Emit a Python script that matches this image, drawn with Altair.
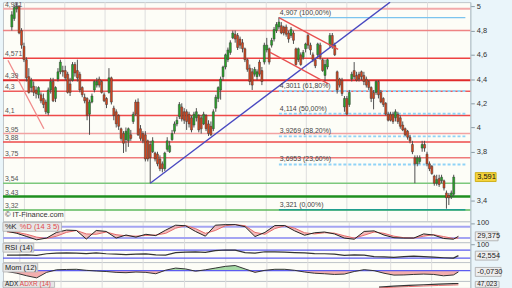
import altair as alt
import pandas as pd

FONT = "Liberation Sans"

# ---------------- candles (price) ----------------
opens = [4.83, 4.90, 4.98, 5.00, 4.80, 4.67, 4.56, 4.42, 4.33, 4.34,
         4.31, 4.27, 4.27, 4.24, 4.21, 4.12, 4.31, 4.38, 4.24, 4.40,
         4.46, 4.47, 4.47, 4.44, 4.36, 4.39, 4.52, 4.47, 4.44, 4.33,
         4.25, 4.24, 4.11, 4.21, 4.31, 4.35, 4.40, 4.38, 4.27, 4.24,
         4.29, 4.41, 4.16, 4.13, 4.10, 3.99, 3.95, 3.90, 3.89, 3.94,
         4.05, 4.21, 4.21, 3.99, 3.95, 3.94, 3.89, 3.86, 3.80, 3.79,
         3.78, 3.74, 3.70, 3.66, 3.82, 3.80, 3.90, 3.97, 4.03, 4.09,
         4.17, 4.13, 4.13, 4.11, 4.08, 4.02, 4.08, 4.10, 4.08, 4.03,
         4.10, 4.03, 4.01, 3.99, 4.16, 4.24, 4.31, 4.42, 4.50, 4.56,
         4.62, 4.74, 4.77, 4.76, 4.73, 4.70, 4.65, 4.56, 4.49, 4.46,
         4.44, 4.42, 4.54, 4.47, 4.54, 4.64, 4.65, 4.68, 4.73, 4.80,
         4.83, 4.84, 4.83, 4.83, 4.78, 4.76, 4.78, 4.65, 4.56, 4.60,
         4.58, 4.65, 4.76, 4.68, 4.60, 4.56, 4.60, 4.68, 4.56, 4.43,
         4.50, 4.68, 4.76, 4.68, 4.46, 4.40, 4.39, 4.17, 4.24, 4.19,
         4.40, 4.47, 4.43, 4.44, 4.46, 4.43, 4.40, 4.38, 4.33, 4.29,
         4.29, 4.38, 4.29, 4.24, 4.20, 4.11, 4.11, 4.11, 4.08, 4.11,
         4.08, 4.02, 3.99, 3.97, 3.92, 3.86, 3.75, 3.70, 3.72, 3.83,
         3.86, 3.78, 3.70, 3.68, 3.60, 3.54, 3.58, 3.56, 3.56, 3.46,
         3.44, 3.43, 3.45]
closes = [4.93, 4.99, 5.00, 4.78, 4.68, 4.56, 4.41, 4.29, 4.39, 4.29,
          4.28, 4.33, 4.22, 4.19, 4.13, 4.31, 4.38, 4.22, 4.33, 4.46,
          4.54, 4.46, 4.41, 4.29, 4.29, 4.52, 4.45, 4.41, 4.31, 4.27,
          4.22, 4.10, 4.21, 4.26, 4.38, 4.38, 4.35, 4.29, 4.22, 4.19,
          4.41, 4.21, 4.10, 4.03, 4.01, 3.91, 3.87, 3.97, 3.99, 3.91,
          4.11, 4.11, 3.94, 3.91, 3.89, 3.74, 3.74, 3.75, 3.89, 3.74,
          3.70, 3.66, 3.66, 3.79, 3.89, 3.85, 3.95, 4.03, 4.06, 4.19,
          4.07, 4.06, 4.05, 4.03, 3.98, 4.11, 4.13, 3.98, 3.99, 4.11,
          3.99, 3.95, 3.94, 4.13, 4.25, 4.33, 4.40, 4.50, 4.60, 4.64,
          4.70, 4.78, 4.73, 4.66, 4.68, 4.65, 4.56, 4.48, 4.38, 4.35,
          4.48, 4.46, 4.44, 4.38, 4.68, 4.68, 4.54, 4.72, 4.81, 4.85,
          4.87, 4.78, 4.78, 4.77, 4.73, 4.81, 4.72, 4.52, 4.65, 4.52,
          4.62, 4.69, 4.68, 4.64, 4.56, 4.51, 4.69, 4.58, 4.47, 4.52,
          4.56, 4.76, 4.68, 4.60, 4.31, 4.35, 4.28, 4.24, 4.11, 4.29,
          4.44, 4.42, 4.39, 4.40, 4.42, 4.38, 4.35, 4.33, 4.24, 4.24,
          4.38, 4.27, 4.21, 4.19, 4.11, 4.06, 4.06, 4.05, 4.13, 4.05,
          4.01, 3.98, 3.94, 3.92, 3.89, 3.80, 3.70, 3.75, 3.75, 3.86,
          3.83, 3.70, 3.66, 3.62, 3.54, 3.57, 3.53, 3.59, 3.50, 3.42,
          3.42, 3.46, 3.591]
highs = [4.96, 5.01, 5.03, 5.01, 4.82, 4.70, 4.58, 4.49, 4.41, 4.38,
         4.34, 4.34, 4.29, 4.28, 4.23, 4.33, 4.41, 4.41, 4.34, 4.49,
         4.56, 4.51, 4.51, 4.46, 4.41, 4.54, 4.54, 4.56, 4.46, 4.34,
         4.28, 4.25, 4.23, 4.28, 4.39, 4.41, 4.42, 4.39, 4.29, 4.25,
         4.49, 4.42, 4.18, 4.15, 4.11, 4.00, 3.97, 4.00, 4.00, 3.98,
         4.13, 4.23, 4.24, 4.02, 3.97, 3.97, 3.90, 3.89, 3.92, 3.80,
         3.80, 3.77, 3.72, 3.80, 3.92, 3.89, 3.98, 4.05, 4.09, 4.21,
         4.20, 4.16, 4.15, 4.13, 4.10, 4.13, 4.16, 4.11, 4.10, 4.13,
         4.11, 4.06, 4.05, 4.15, 4.27, 4.34, 4.42, 4.51, 4.61, 4.66,
         4.72, 4.80, 4.80, 4.78, 4.75, 4.73, 4.66, 4.57, 4.52, 4.49,
         4.50, 4.48, 4.56, 4.50, 4.70, 4.74, 4.66, 4.74, 4.83, 4.87,
         4.91, 4.87, 4.84, 4.85, 4.80, 4.83, 4.80, 4.66, 4.66, 4.62,
         4.64, 4.70, 4.78, 4.70, 4.62, 4.57, 4.70, 4.70, 4.57, 4.56,
         4.57, 4.78, 4.78, 4.70, 4.47, 4.41, 4.41, 4.26, 4.26, 4.31,
         4.46, 4.54, 4.46, 4.46, 4.47, 4.46, 4.42, 4.39, 4.34, 4.31,
         4.39, 4.39, 4.31, 4.25, 4.21, 4.13, 4.13, 4.13, 4.15, 4.13,
         4.10, 4.05, 4.00, 3.98, 3.94, 3.89, 3.77, 3.77, 3.77, 3.89,
         3.89, 3.80, 3.72, 3.69, 3.61, 3.61, 3.61, 3.61, 3.57, 3.48,
         3.46, 3.48, 3.61]
lows = [4.80, 4.88, 4.95, 4.77, 4.65, 4.54, 4.38, 4.28, 4.29, 4.26,
        4.24, 4.24, 4.20, 4.16, 4.11, 4.10, 4.28, 4.21, 4.21, 4.38,
        4.44, 4.42, 4.39, 4.28, 4.26, 4.38, 4.42, 4.38, 4.29, 4.25,
        4.20, 4.06, 3.94, 4.20, 4.29, 4.33, 4.33, 4.28, 4.21, 4.16,
        4.28, 4.19, 4.06, 4.00, 3.98, 3.89, 3.79, 3.80, 3.84, 3.89,
        4.03, 4.10, 3.93, 3.89, 3.87, 3.72, 3.72, 3.54, 3.79, 3.72,
        3.68, 3.64, 3.63, 3.64, 3.80, 3.79, 3.89, 3.95, 4.01, 4.07,
        4.05, 4.03, 3.98, 4.00, 3.96, 4.00, 4.05, 3.96, 3.95, 4.02,
        3.97, 3.93, 3.93, 3.97, 4.13, 4.21, 4.23, 4.39, 4.48, 4.54,
        4.60, 4.73, 4.70, 4.64, 4.65, 4.62, 4.54, 4.46, 4.35, 4.31,
        4.42, 4.39, 4.42, 4.35, 4.52, 4.62, 4.52, 4.66, 4.71, 4.78,
        4.81, 4.77, 4.76, 4.75, 4.70, 4.74, 4.69, 4.51, 4.54, 4.51,
        4.56, 4.62, 4.65, 4.60, 4.54, 4.49, 4.57, 4.56, 4.46, 4.38,
        4.48, 4.66, 4.65, 4.59, 4.28, 4.33, 4.26, 4.13, 4.10, 4.17,
        4.38, 4.40, 4.38, 4.38, 4.39, 4.35, 4.33, 4.31, 4.21, 4.15,
        4.27, 4.24, 4.20, 4.17, 4.10, 4.05, 4.05, 4.03, 4.05, 4.03,
        3.99, 3.97, 3.93, 3.90, 3.87, 3.78, 3.54, 3.68, 3.70, 3.80,
        3.80, 3.68, 3.64, 3.61, 3.52, 3.52, 3.51, 3.54, 3.48, 3.33,
        3.36, 3.41, 3.43]

# ---------------- horizontal levels ----------------
level_vals = [4.981, 4.80, 4.571, 4.39, 4.30, 4.10, 3.95, 3.88, 3.75, 3.54, 3.43, 3.32]
level_text = ["4,981", "", "4,571", "4,39", "4,3", "4,1", "3,95", "3,88", "3,75", "3,54", "3,43", "3,32"]
level_color = ["#f3aaaa", "#ee8484", "#ee4242", "#e02a2a", "#ee5c5c", "#ee4a4a",
               "#f2a2a2", "#ec4a4a", "#ef7a7a", "#7cc87c", "#1f8f1f", "#5cb85c"]
level_width = [2, 1.5, 1.5, 2.2, 1.5, 1.5, 1.5, 1.5, 1.5, 1.5, 2.5, 1.5]

# ---------------- Fibonacci retracement ----------------
fib_vals = [4.907, 4.3011, 4.114, 3.9269, 3.6953, 3.321]
fib_text = ["4,907 (100,00%)", "4,3011 (61,80%)", "4,114 (50,00%)",
            "3,9269 (38,20%)", "3,6953 (23,60%)", "3,321 (0,00%)"]
fib_dash = [False, True, True, True, True, False]
fib_color = ["#7cc4ee", "#8fd3f7", "#8fd3f7", "#8fd3f7", "#8fd3f7", "#1f9e8f"]
fib_start = 110

# ---------------- trend lines (candle index, price) ----------------
trend_x0 = [57, -1.6, 110, 106.4]
trend_y0 = [3.54, 4.555, 4.907, 4.62]
trend_x1 = [155.8, 13.2, 134.4, 130.4]
trend_y1 = [5.035, 3.99, 4.645, 4.36]
trend_color = ["#4848c0", "#f08a8a", "#e85050", "#e85050"]

# vertical date grid (candle index)
grid_i = [5.2, 21.8, 38.4, 54.9, 71.6, 88.2, 104.8, 121.3, 138.0, 154.7, 171.2]

# ---------------- indicators (sampled every 4 candles) ----------------
ind_i = list(range(0, 181, 4)) + [182]
stoch_k = [56, 45, 28, 11, 20, 50, 62, 60, 15, 60,
           55, 20, 36, 25, 40, 33, 62, 88, 85, 55,
           30, 88, 91, 91, 80, 28, 50, 86, 86, 58,
           35, 48, 52, 42, 20, 14, 55, 58, 36, 22,
           20, 20, 42, 36, 18, 14, 29.375]
stoch_d = [52, 50, 40, 25, 18, 30, 50, 60, 42, 40,
           52, 38, 32, 30, 34, 36, 45, 72, 86, 70,
           45, 60, 85, 91, 85, 50, 40, 70, 85, 72,
           48, 42, 48, 46, 32, 20, 35, 52, 45, 30,
           22, 20, 30, 38, 28, 18, 20]
rsi = [45, 45, 46, 44, 52, 55, 56, 55, 53, 56,
       52, 50, 48, 50, 51, 46, 45, 58, 60, 61,
       59, 68, 71, 70, 58, 55, 62, 61, 60, 58,
       56, 53, 52, 50, 44, 46, 45, 38, 36, 34,
       38, 40, 38, 35, 32, 30, 42.554]
mom = [-0.05, -0.15, -0.3, -0.42, -0.1, 0.05, 0.07, 0.08, 0.02, -0.02,
       -0.05, -0.1, -0.12, -0.08, -0.1, -0.18, 0.03, 0.15, 0.1, -0.03,
       0.05, 0.15, 0.25, 0.3, 0.1, -0.1, 0.02, 0.08, 0.08, 0.02,
       -0.08, -0.15, -0.18, -0.22, -0.2, -0.05, 0.06, 0.0, -0.15, -0.26,
       -0.25, -0.22, -0.2, -0.22, -0.3, -0.25, -0.073]
adx_i = [150, 156, 162, 168, 174, 180, 182]
adx = [43.0, 44.0, 44.8, 45.6, 46.3, 46.9, 47.023]
adxr = [42.0, 42.8, 43.5, 44.2, 44.8, 45.3, 45.5]

last_labels = ["3,591", "29,375", "42,554", "-0,0730", "47,023"]

# ======================================================================
W = 471
X_MIN, X_MAX = -1.6, 186.8
xsc = alt.Scale(domain=[X_MIN, X_MAX], nice=False, zero=False)


def X(f):
    return alt.X(f, type="quantitative", scale=xsc, axis=None)


def tbox(w, h):
    return f"M0,0H2V{2 * h / w:.4f}H0Z"


def vbox(w, h):
    r = h / w
    return f"M0,{-r:.4f}H2V{r:.4f}H0Z"


def text_at(txt, x, y, color="#222", size=7.5, baseline="middle"):
    return alt.Chart(pd.DataFrame({"t": [txt]})).mark_text(
        align="left", baseline=baseline, fontSize=size, color=color, font=FONT
    ).encode(x=alt.value(x), y=alt.value(y), text="t:N")


def box_at(x, y, w, h, fill="#e6e6e6", stroke="#b0b0b0"):
    return alt.Chart(pd.DataFrame({"a": [0]})).mark_point(
        shape=tbox(w, h), size=w * w, filled=True, fill=fill, stroke=stroke,
        strokeWidth=0.8, opacity=1
    ).encode(x=alt.value(x), y=alt.value(y))


grid_df = pd.DataFrame({"g": grid_i})
grid_layer = alt.Chart(grid_df).mark_rule(color="#dedede", strokeWidth=1).encode(x=X("g"))

# ---------------- main price panel ----------------
MAIN_H = 221
ysc = alt.Scale(domain=[3.225, 5.035], nice=False, zero=False)
main_axis = alt.Axis(orient="right", values=[5, 4.8, 4.6, 4.4, 4.2, 4, 3.8, 3.4],
                     labelExpr="replace(format(datum.value, '~g'), '.', ',')",
                     tickSize=4, tickColor="#8a9aa4", domainColor="#b5c6cf",
                     labelFontSize=7.5, labelColor="#333", labelFont=FONT,
                     grid=False, title=None, minExtent=41, labelPadding=2)


def Y(f):
    return alt.Y(f, type="quantitative", scale=ysc, axis=main_axis)


candles = pd.DataFrame({"i": list(range(len(closes))), "open": opens, "close": closes,
                        "high": highs, "low": lows})
candles["dir"] = ["up" if c >= o else "down" for o, c in zip(opens, closes)]

levels = pd.DataFrame({"v": level_vals, "t": level_text, "c": level_color, "w": level_width})
fib = pd.DataFrame({"v": fib_vals, "t": fib_text, "c": fib_color, "dash": fib_dash,
                    "x0": [fib_start] * len(fib_vals), "x1": [X_MAX] * len(fib_vals)})
trend = pd.DataFrame({"x0": trend_x0, "y0": trend_y0, "x1": trend_x1, "y1": trend_y1,
                      "c": trend_color})
price_df = pd.DataFrame({"v": [closes[-1]], "t": [last_labels[0]]})

lvl_rules = alt.Chart(levels).mark_rule().encode(
    y=Y("v"), color=alt.Color("c:N", scale=None),
    strokeWidth=alt.StrokeWidth("w:Q", scale=None))
fib_solid = alt.Chart(fib).transform_filter("!datum.dash").mark_rule(strokeWidth=1.5).encode(
    x=X("x0"), x2="x1", y=Y("v"), color=alt.Color("c:N", scale=None))
fib_dashed = alt.Chart(fib).transform_filter("datum.dash").mark_rule(
    strokeWidth=2, strokeDash=[3, 2]).encode(
    x=X("x0"), x2="x1", y=Y("v"), color=alt.Color("c:N", scale=None))
wicks = alt.Chart(candles).mark_rule(color="#505050", strokeWidth=1, clip=True).encode(
    x=X("i"), y=Y("low"), y2="high")
bodies = alt.Chart(candles).mark_bar(size=2, stroke="#3a3a3a", strokeWidth=0.5, clip=True).encode(
    x=X("i"), y=Y("open"), y2="close",
    color=alt.Color("dir:N", scale=alt.Scale(domain=["up", "down"], range=["#27a627", "#d6461d"]),
                    legend=None))
trend_lines = alt.Chart(trend).mark_rule(strokeWidth=1.3, clip=True).encode(
    x=X("x0"), x2="x1", y=Y("y0"), y2="y1", color=alt.Color("c:N", scale=None))
lvl_text = alt.Chart(levels).mark_text(align="left", baseline="bottom", dy=-1, fontSize=7,
                                       color="#555", font=FONT, clip=True).encode(
    x=alt.value(2), y=Y("v"), text="t:N")
fib_labels = alt.Chart(fib).transform_calculate(xt="datum.x0 + 0.4").mark_text(
    align="left", baseline="bottom", dy=-2, fontSize=7, color="#444", font=FONT).encode(
    x=X("xt"), y=Y("v"), text="t:N")
copyright_txt = text_at("© IT-Finance.com", 2, 215, color="#333", size=7.5)
price_box = alt.Chart(price_df).mark_point(shape=vbox(21, 9), size=21 * 21, filled=True,
                                           fill="#f5d33c", stroke="#c8a600", strokeWidth=0.8,
                                           opacity=1).encode(x=alt.value(476), y=Y("v"))
price_txt = alt.Chart(price_df).mark_text(align="left", baseline="middle", fontSize=7.5,
                                          color="#111", font=FONT).encode(
    x=alt.value(478), y=Y("v"), text="t:N")

main = alt.layer(grid_layer, lvl_rules, fib_solid, fib_dashed, wicks, bodies, trend_lines,
                 lvl_text, fib_labels, copyright_txt, price_box, price_txt).properties(
    width=W, height=MAIN_H)

# ---------------- indicator panels ----------------
ind = pd.DataFrame({"i": ind_i, "k": stoch_k, "d": stoch_d, "rsi": rsi, "mom": mom})


def panel_axis(vals):
    return alt.Axis(orient="right", values=vals, tickSize=4, tickColor="#8a9aa4",
                    domainColor="#b5c6cf", labelFontSize=7.5, labelColor="#333",
                    labelFont=FONT, grid=False, title=None, minExtent=41, labelPadding=2,
                    format="d")


def value_box(scale, axis, value, label, w):
    df = pd.DataFrame({"v": [value], "t": [label]})
    b = alt.Chart(df).mark_point(shape=vbox(w, 9), size=w * w, filled=True, fill="#eeeeee",
                                 stroke="#a8a8a8", strokeWidth=0.8, opacity=1).encode(
        x=alt.value(476), y=alt.Y("v:Q", scale=scale, axis=axis))
    t = alt.Chart(df).mark_text(align="left", baseline="middle", fontSize=7.5, color="#222",
                                font=FONT).encode(
        x=alt.value(478), y=alt.Y("v:Q", scale=scale, axis=axis), text="t:N")
    return b, t


# stochastic
ssc = alt.Scale(domain=[-2, 108], nice=False, zero=False)
s_axis = panel_axis([100])
s_ref = alt.Chart(pd.DataFrame({"v": [80, 20]})).mark_rule(color="#a4a4f2", strokeWidth=2).encode(
    y=alt.Y("v:Q", scale=ssc, axis=s_axis))
s_fill = alt.Chart(ind).mark_area(color="#f2b0b0", opacity=0.85).encode(
    x=X("i"), y=alt.Y("k:Q", scale=ssc, axis=s_axis), y2="d:Q")
s_d = alt.Chart(ind).mark_line(color="#e46a6a", strokeWidth=1).encode(
    x=X("i"), y=alt.Y("d:Q", scale=ssc, axis=s_axis))
s_k = alt.Chart(ind).mark_line(color="#222", strokeWidth=1).encode(
    x=X("i"), y=alt.Y("k:Q", scale=ssc, axis=s_axis))
s_b, s_t = value_box(ssc, s_axis, stoch_k[-1], last_labels[1], 23)
stoch = alt.layer(grid_layer, s_ref, s_fill, s_d, s_k,
                  box_at(0, 1, 59, 9), text_at("%K", 2, 5.5), text_at("%D (14 3 5)", 17, 5.5, "#e04848"),
                  s_b, s_t).properties(width=W, height=21)

# RSI
rsc = alt.Scale(domain=[10, 110], nice=False, zero=False)
r_axis = panel_axis([100])
r_ref = alt.Chart(pd.DataFrame({"v": [70, 30]})).mark_rule(color="#5c5cf0", strokeWidth=1.2).encode(
    y=alt.Y("v:Q", scale=rsc, axis=r_axis))
r_line = alt.Chart(ind).mark_line(color="#333", strokeWidth=1.2).encode(
    x=X("i"), y=alt.Y("rsi:Q", scale=rsc, axis=r_axis))
r_b, r_t = value_box(rsc, r_axis, rsi[-1], last_labels[2], 23)
rsi_c = alt.layer(grid_layer, r_ref, r_line, box_at(0, 1, 31, 9), text_at("RSI (14)", 2, 5.5),
                  r_b, r_t).properties(width=W, height=20)

# Momentum
msc = alt.Scale(domain=[-0.6, 0.5], nice=False, zero=False)
m_axis = alt.Axis(orient="right", values=[], ticks=False, labels=False, domainColor="#b5c6cf",
                  grid=False, title=None, minExtent=41)
m_zero = alt.Chart(pd.DataFrame({"v": [0]})).mark_rule(color="#5c5cf0", strokeWidth=1.2).encode(
    y=alt.Y("v:Q", scale=msc, axis=m_axis))
m_base = alt.Chart(ind).transform_calculate(
    pos="max(datum.mom, 0)", neg="min(datum.mom, 0)", zero="0")
m_pos = m_base.mark_area(color="#a6daa6").encode(
    x=X("i"), y=alt.Y("pos:Q", scale=msc, axis=m_axis), y2="zero:Q")
m_neg = m_base.mark_area(color="#f3aeae").encode(
    x=X("i"), y=alt.Y("neg:Q", scale=msc, axis=m_axis), y2="zero:Q")
m_line = alt.Chart(ind).mark_line(color="#333", strokeWidth=1).encode(
    x=X("i"), y=alt.Y("mom:Q", scale=msc, axis=m_axis))
m_b, m_t = value_box(msc, m_axis, mom[-1], last_labels[3], 26)
mom_c = alt.layer(grid_layer, m_pos, m_neg, m_zero, m_line, box_at(0, 1, 35, 9),
                  text_at("Mom (12)", 2, 5.5), m_b, m_t).properties(width=W, height=19)

# ADX (only the top sliver is visible)
asc = alt.Scale(domain=[42, 50], nice=False, zero=False)
a_axis = alt.Axis(orient="right", values=[], ticks=False, labels=False, domainColor="#b5c6cf",
                  grid=False, title=None, minExtent=41)
adx_df = pd.DataFrame({"i": adx_i, "adx": adx, "adxr": adxr})
a_r = alt.Chart(adx_df).mark_line(color="#e46a6a", strokeWidth=1, clip=True).encode(
    x=X("i"), y=alt.Y("adxr:Q", scale=asc, axis=a_axis))
a_l = alt.Chart(adx_df).mark_line(color="#333", strokeWidth=1.2, clip=True).encode(
    x=X("i"), y=alt.Y("adx:Q", scale=asc, axis=a_axis))
a_box = alt.Chart(pd.DataFrame({"a": [0]})).mark_point(
    shape=tbox(24, 6), size=576, filled=True, fill="#eeeeee", stroke="#a8a8a8",
    strokeWidth=0.8, opacity=1).encode(x=alt.value(476), y=alt.value(0.5))
adx_c = alt.layer(grid_layer, a_r, a_l, box_at(0, 0.5, 52, 6),
                  text_at("ADX", 2, 3.6, size=6.5),
                  text_at("ADXR (14)", 17, 3.6, "#e04848", size=6.5),
                  a_box, text_at(last_labels[4], 478, 3.6, size=6.5)
                  ).properties(width=W, height=7)

chart = alt.vconcat(main, stoch, rsi_c, mom_c, adx_c, spacing=0, bounds="flush").resolve_scale(
    x="independent", y="independent").properties(padding=0).configure(
    background="#eaf5fa", font=FONT).configure_view(stroke="#c0c6ca", fill="#fdfdf7")

chart.save("out.html", embed_options={"renderer": "svg", "actions": False})
